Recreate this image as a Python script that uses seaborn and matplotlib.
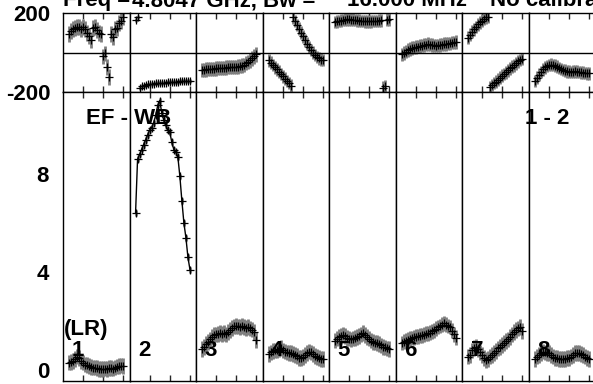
import matplotlib
matplotlib.use("Agg")
import matplotlib.pyplot as plt
import seaborn as sns
import pandas as pd

# channels plotted in every IF
CHANNELS = list(range(3, 31))

# amplitude per IF
AMP_IF1 = [0.30, 0.32, 0.38, 0.45, 0.55, 0.48, 0.35, 0.30, 0.22, 0.20, 0.15, 0.12, 0.10, 0.10,
           0.08, 0.05, 0.04, 0.03, 0.06, 0.05, 0.07, 0.08, 0.06, 0.10, 0.14, 0.15, 0.18, 0.16]
AMP_IF2 = [6.4, 8.6, 8.8, 9.0, 9.2, 9.4, 9.6, 9.8, 9.9, 10.1, 10.4, 10.8, 11.0, 10.5,
           10.2, 10.0, 9.8, 9.7, 9.3, 9.0, 8.9, 8.7, 7.9, 6.9, 6.0, 5.4, 4.6, 4.1]
AMP_IF3 = [0.85, 0.95, 1.05, 1.15, 1.25, 1.35, 1.42, 1.45, 1.48, 1.50, 1.47, 1.50, 1.45, 1.55,
           1.62, 1.72, 1.78, 1.80, 1.78, 1.75, 1.80, 1.76, 1.72, 1.75, 1.70, 1.65, 1.55, 1.22]
AMP_IF4 = [0.65, 0.72, 0.78, 0.80, 0.82, 0.85, 0.90, 0.80, 0.75, 0.72, 0.70, 0.68, 0.65, 0.62,
           0.58, 0.50, 0.48, 0.52, 0.60, 0.70, 0.75, 0.72, 0.65, 0.58, 0.52, 0.48, 0.46, 0.45]
AMP_IF5 = [1.20, 1.28, 1.34, 1.40, 1.43, 1.38, 1.30, 1.28, 1.25, 1.28, 1.30, 1.35, 1.38, 1.45,
           1.50, 1.42, 1.35, 1.28, 1.20, 1.15, 1.12, 1.10, 1.05, 1.00, 0.95, 0.92, 0.88, 0.85]
AMP_IF6 = [1.10, 1.15, 1.20, 1.24, 1.28, 1.30, 1.33, 1.36, 1.38, 1.40, 1.42, 1.44, 1.48, 1.50,
           1.52, 1.58, 1.62, 1.68, 1.75, 1.80, 1.85, 1.90, 1.85, 1.80, 1.75, 1.60, 1.45, 1.32]
AMP_IF7 = [0.55, 0.62, 0.80, 0.90, 0.95, 0.85, 0.72, 0.62, 0.50, 0.42, 0.45, 0.55, 0.62, 0.70,
           0.78, 0.88, 0.95, 1.02, 1.10, 1.18, 1.25, 1.35, 1.45, 1.55, 1.62, 1.70, 1.75, 1.60]
AMP_IF8 = [0.45, 0.55, 0.62, 0.70, 0.75, 0.72, 0.70, 0.68, 0.62, 0.55, 0.50, 0.48, 0.46, 0.45,
           0.45, 0.46, 0.48, 0.50, 0.55, 0.62, 0.68, 0.70, 0.68, 0.66, 0.62, 0.55, 0.48, 0.45]

# phase per IF (degrees)
PHASE_IF1 = [95, 110, 118, 125, 130, 128, 120, 128, 118, 100, 85, 65, 125, 128,
             115, 100, 95, -20, -5, -75, -125, 95, 80, 120, 125, 150, 160, 178]
PHASE_IF2 = [165, 178, -178, -172, -168, -165, -162, -160, -158, -157, -156, -155, -154, -153,
             -152, -152, -151, -150, -149, -148, -148, -147, -146, -146, -145, -144, -143, -142]
PHASE_IF3 = [-88, -87, -86, -85, -84, -83, -82, -81, -80, -79, -78, -77, -76, -75,
             -75, -74, -73, -72, -71, -70, -66, -62, -55, -48, -40, -30, -20, -10]
PHASE_IF4 = [-40, -52, -63, -75, -86, -97, -108, -120, -132, -144, -155, -168, 178, 160,
             140, 120, 100, 82, 62, 45, 28, 12, 0, -12, -22, -30, -36, -38]
PHASE_IF5 = [155, 157, 160, 162, 164, 166, 168, 168, 167, 166, 164, 163, 162, 160,
             159, 158, 158, 157, 158, 159, 160, 160, 162, 163, -178, -172, 166, 168]
PHASE_IF6 = [-10, -2, 5, 12, 18, 22, 25, 28, 30, 32, 35, 38, 40, 42,
             40, 38, 36, 35, 36, 38, 40, 42, 44, 45, 47, 50, 52, 54]
PHASE_IF7 = [75, 90, 105, 118, 130, 142, 152, 162, 170, 178, 180, -175, -165, -155,
             -148, -138, -128, -118, -108, -100, -90, -80, -72, -65, -55, -45, -38, -32]
PHASE_IF8 = [-145, -128, -112, -98, -85, -75, -68, -64, -62, -63, -66, -72, -78, -84,
             -88, -92, -95, -97, -98, -97, -96, -97, -99, -100, -102, -104, -105, -106]

# one-sigma error per IF
AMP_ERR = [0.32, 0.12, 0.32, 0.32, 0.32, 0.3, 0.32, 0.32]
PHASE_ERR = [40, 10, 36, 32, 32, 34, 32, 32]

IF_LABELS = ["1", "2", "3", "4", "5", "6", "7", "8"]

amps = [AMP_IF1, AMP_IF2, AMP_IF3, AMP_IF4, AMP_IF5, AMP_IF6, AMP_IF7, AMP_IF8]
phases = [PHASE_IF1, PHASE_IF2, PHASE_IF3, PHASE_IF4, PHASE_IF5, PHASE_IF6, PHASE_IF7, PHASE_IF8]

rows = []
for i in range(8):
    for ch, a, p in zip(CHANNELS, amps[i], phases[i]):
        rows.append({"IF": i + 1, "chan": ch, "amp": a, "phase": p,
                     "amp_err": AMP_ERR[i], "phase_err": PHASE_ERR[i]})
df = pd.DataFrame(rows)

sns.set_style("white")
plt.rcParams['font.family'] = ['Liberation Sans', 'DejaVu Sans']
plt.rcParams['font.weight'] = 'bold'

W, H = 593, 384
fig = plt.figure(figsize=(W / 100, H / 100), dpi=100)

x_left = 63
pw = 66.5
bold = dict(fontsize=16, fontweight='bold', color='black')
grey = '#7f7f7f'

for i in range(8):
    sub = df[df["IF"] == i + 1]
    x0 = (x_left + i * pw) / W

    # --- phase panel
    axp = fig.add_axes([x0, (H - 92) / H, pw / W, 79 / H])
    axp.vlines(sub["chan"], sub["phase"] - sub["phase_err"], sub["phase"] + sub["phase_err"],
               color=grey, lw=2, zorder=1)
    sns.scatterplot(x=sub["chan"], y=sub["phase"], marker='+', color='black', s=40,
                    linewidth=0.9, ax=axp, zorder=2)
    axp.axhline(0, color='black', lw=1)
    axp.set_xlim(0, 33)
    axp.set_ylim(-200, 200)
    axp.set_xticks([10, 20, 30])
    axp.set_xticklabels([])
    axp.tick_params(axis='x', direction='in', top=True, bottom=True, length=4, width=1)
    if i == 0:
        axp.set_yticks([-200, 200])
        axp.set_yticklabels(["-200", "200"], **bold)
        axp.tick_params(axis='y', length=0, pad=9)
    else:
        axp.set_yticks([])
    axp.set_xlabel("")
    axp.set_ylabel("")

    # --- amplitude panel
    axa = fig.add_axes([x0, (H - 381) / H, pw / W, 289 / H])
    axa.vlines(sub["chan"], sub["amp"] - sub["amp_err"], sub["amp"] + sub["amp_err"],
               color=grey, lw=2, zorder=1)
    if i == 1:
        sns.lineplot(x=sub["chan"], y=sub["amp"], color='black', lw=1, ax=axa, zorder=2)
    sns.scatterplot(x=sub["chan"], y=sub["amp"], marker='+', color='black', s=40,
                    linewidth=0.9, ax=axa, zorder=3)
    axa.set_xlim(0, 33)
    axa.set_ylim(-0.45, 11.35)
    axa.set_xticks([10, 20, 30])
    axa.set_xticklabels([])
    axa.tick_params(axis='x', direction='in', top=True, bottom=True, length=4, width=1)
    axa.set_yticks([0, 2, 4, 6, 8, 10])
    if i == 0:
        axa.set_yticklabels(["0", "", "4", "", "8", ""], **bold)
        axa.tick_params(axis='y', direction='in', length=6, width=1, pad=10)
    else:
        axa.set_yticklabels([])
        axa.tick_params(axis='y', direction='inout', length=10, width=1)
    axa.set_xlabel("")
    axa.set_ylabel("")
    axa.text(0.128, 0.107, IF_LABELS[i], transform=axa.transAxes, ha='left', va='center',
             zorder=5, **bold)

    for ax in (axp, axa):
        for s in ax.spines.values():
            s.set_color('black')
            s.set_linewidth(1)

# labels on the plot
fig.text(86 / W, 1 - 118 / H, "EF - WB", ha='left', va='center', **bold)
fig.text(525 / W, 1 - 119 / H, "1 - 2", ha='left', va='center', **bold)
fig.text(64 / W, 1 - 330 / H, "(LR)", ha='left', va='center', **bold)

# header line, mostly cut off at the top edge as in the source plot
for xpix, s in [(63, "Freq ="), (132, "4.8047 GHz, Bw ="), (347, "16.000 MHz"),
                (490, "No calibration")]:
    fig.text(xpix / W, 1 - 6 / H, s, ha='left', va='baseline', **bold)

fig.savefig("out.png", dpi=100)
